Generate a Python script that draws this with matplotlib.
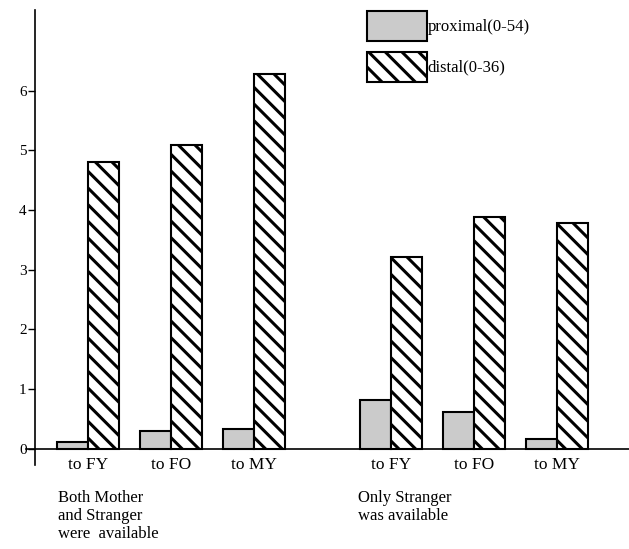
import numpy as np
import matplotlib
matplotlib.use('Agg')
import matplotlib.pyplot as plt

plt.rcParams['font.family'] = ['Liberation Serif', 'DejaVu Serif']
plt.rcParams['hatch.linewidth'] = 2.2

# data
targets = ['to FY', 'to FO', 'to MY']
conditions = ['Both Mother\nand Stranger\nwere  available', 'Only Stranger\nwas available']
proximal_both = [0.12, 0.30, 0.33]
distal_both = [4.80, 5.09, 6.28]
proximal_only = [0.82, 0.61, 0.17]
distal_only = [3.22, 3.89, 3.78]
series_names = ['proximal(0-54)', 'distal(0-36)']

fig = plt.figure(figsize=(6.29, 5.49), dpi=100)
ax = fig.add_axes([35 / 629, (549 - 465) / 549, 594 / 629, 455 / 549])

w = 0.373
x1 = np.arange(3)
x2 = np.arange(3) + 3.65
prox = proximal_both + proximal_only
dist = distal_both + distal_only
xs = np.concatenate([x1, x2])

b1 = ax.bar(xs - w / 2, prox, w, color='#cbcbcb', edgecolor='black', linewidth=1.5,
            label=series_names[0])
b2 = ax.bar(xs + w / 2, dist, w, color='white', edgecolor='black', linewidth=1.5,
            hatch='\\\\', label=series_names[1])

ax.axhline(0, color='black', lw=1.2, xmin=-0.015, clip_on=False)
ax.set_xlim(-0.64, 6.52)
ax.set_ylim(-0.27, 7.35)
ax.set_yticks(range(7))
ax.tick_params(axis='y', direction='out', length=5, width=1, labelsize=11, pad=1)
ax.set_xticks([])
for s in ['top', 'right', 'bottom']:
    ax.spines[s].set_visible(False)
ax.spines['left'].set_linewidth(1.2)

for x, t in zip(xs, targets * 2):
    ax.text(x, -0.27, t, ha='center', va='center', fontsize=12.5)

fig.text(58 / 629, 1 - 490 / 549, conditions[0], ha='left', va='top', fontsize=12,
         linespacing=1.15)
fig.text(358 / 629, 1 - 490 / 549, conditions[1], ha='left', va='top', fontsize=12,
         linespacing=1.15)

fig.legend(handles=[b1, b2], loc='upper left', bbox_to_anchor=(360 / 629, 1 - 4 / 549),
           frameon=False, fontsize=12, handlelength=3.6, handleheight=2.4,
           handletextpad=0.05, labelspacing=0.65, borderaxespad=0)

fig.savefig('out.png', dpi=100)
